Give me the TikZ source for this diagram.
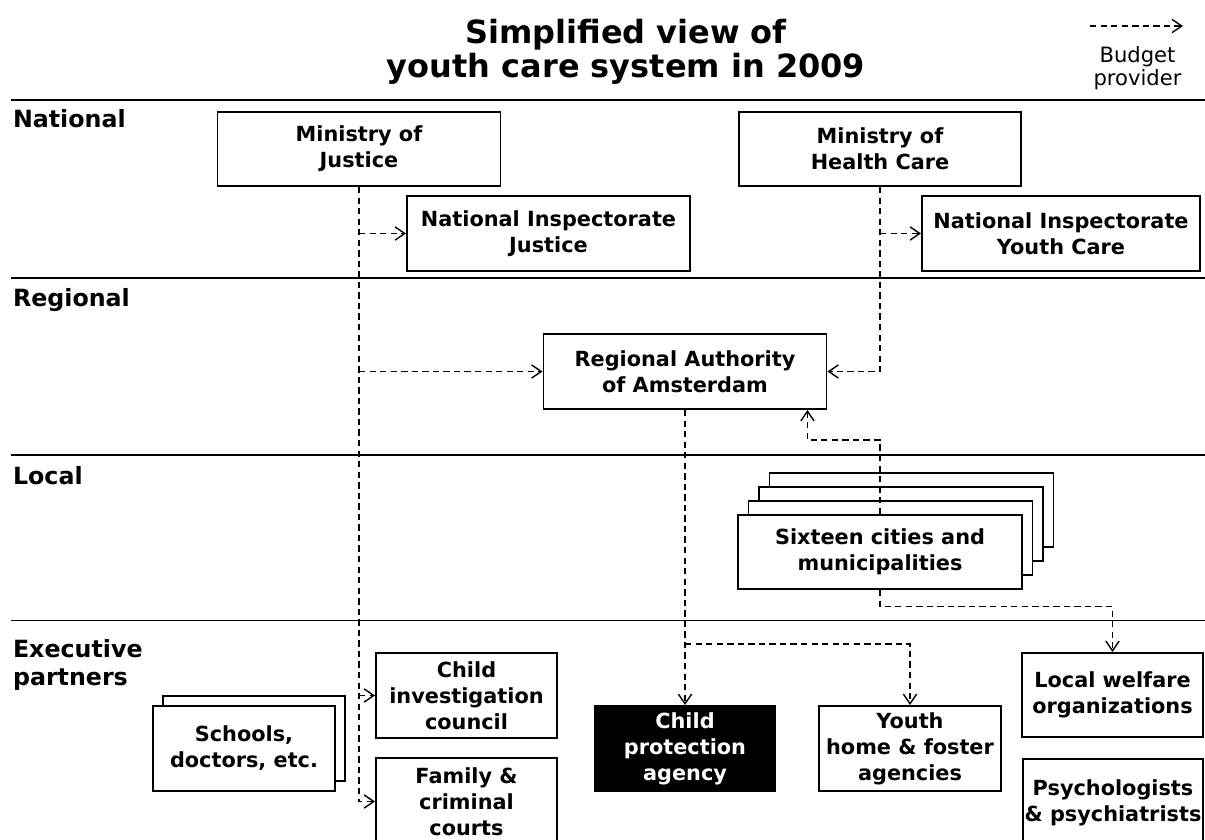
\documentclass[tikz,border=0pt]{standalone}
\usepackage{fontspec}
\setmainfont{DejaVu Sans}
\usetikzlibrary{arrows.meta}

\begin{document}
\begin{tikzpicture}[>={Straight Barb[length=5.5pt,width=7.5pt]}, line width=0.6pt,
  box/.style={draw, line width=1.1pt, fill=white, align=center, inner sep=0pt,
    font=\bfseries\fontsize{11.85}{14.8}\selectfont},
  nbox/.style={box, minimum width=5.66cm, minimum height=1.48cm},
  ebox/.style={box, minimum width=3.62cm, minimum height=1.7cm},
  budget/.style={->, dash pattern=on 3.6pt off 2.4pt, line width=0.8pt},
  level/.style={anchor=base west, inner sep=0pt, font=\bfseries\fontsize{13.5}{15.9}\selectfont},
  rule/.style={line width=1.1pt}]
\useasboundingbox (0,0) rectangle (24.1,-16.8);

% title and legend
\node[align=center, inner sep=0pt, font=\bfseries\fontsize{18.2}{19.3}\selectfont] (title) at (12.52,-1.04) {Simplified view of\\youth care system in 2009};
\coordinate (lgs) at (21.8,-0.52);
\coordinate (lge) at (23.66,-0.52);
\draw[budget] (lgs) -- (lge);
\node[align=center, inner sep=0pt, font=\fontsize{12}{13}\selectfont] (legend) at (22.75,-1.36) {Budget\\provider};

% levels
\draw[rule] (0.22,-2.0) -- (24.1,-2.0);
\draw[rule] (0.22,-5.56) -- (24.1,-5.56);
\draw[rule] (0.22,-9.1) -- (24.1,-9.1);
\draw[rule] (0.22,-12.41) -- (24.1,-12.41);
\node[level] (natl) at (0.25,-2.54) {National};
\node[level] (regl) at (0.25,-6.12) {Regional};
\node[level] (locl) at (0.25,-9.68) {Local};
\node[level, anchor=north west, align=left] (exec) at (0.25,-12.78) {Executive\\partners};

% national
\node[nbox] (mj) at (7.18,-2.98) {Ministry of\\Justice};
\node[nbox, minimum height=1.5cm] (nij) at (10.97,-4.67) {National Inspectorate\\Justice};
\node[nbox, minimum width=5.64cm] (mh) at (17.6,-2.98) {Ministry of\\Health Care};
\node[nbox, minimum width=5.56cm, minimum height=1.5cm] (niyc) at (21.22,-4.67) {National Inspectorate\\Youth Care};

% regional and local
\node[nbox, minimum height=1.5cm] (reg) at (13.7,-7.43) {Regional Authority\\of Amsterdam};
\foreach \k in {3,2,1}
  \node[nbox, minimum width=5.68cm] (sc\k) at ({17.6+0.21*\k},{-11.04+0.28*\k}) {};
\node[nbox, minimum width=5.68cm] (sc) at (17.6,-11.04) {Sixteen cities and\\municipalities};

% executive partners
\node[ebox, minimum width=3.64cm] (sch1) at (5.08,-14.77) {};
\node[ebox, minimum width=3.64cm] (sch) at (4.88,-14.97) {Schools,\\doctors, etc.};
\node[ebox] (ci) at (9.33,-13.91) {Child\\investigation\\council};
\node[ebox, minimum height=1.74cm] (fam) at (9.33,-16.03) {Family \&\\criminal\\courts};
\node[ebox, fill=black, text=white] (cpa) at (13.7,-14.97) {Child\\protection\\agency};
\node[ebox, minimum width=3.64cm] (yh) at (18.2,-14.97) {Youth\\home \& foster\\agencies};
\node[ebox, minimum height=1.68cm] (lw) at (22.25,-13.9) {Local welfare\\organizations};
\node[ebox, minimum width=3.6cm, minimum height=1.76cm] (psy) at (22.26,-16.06) {Psychologists\\\& psychiatrists};

% budget flows
\draw[budget] (mj.south) |- (fam.west);
\draw[budget] (mj.south |- nij.west) -- (nij.west);
\draw[budget] (mj.south |- reg.west) -- (reg.west);
\draw[budget] (mj.south |- ci.west) -- (ci.west);
\draw[budget] (mh.south) |- (reg.east);
\draw[budget] (mh.south |- niyc.west) -- (niyc.west);
\draw[budget] (sc.north) -- ++(0,1.48) -| ([xshift=-0.4cm]reg.south east);
\draw[budget] (sc.south) -- ++(0,-0.33) -| (lw.north);
\draw[budget] (reg.south) -- (cpa.north);
\coordinate (split) at ([yshift=-4.68cm]reg.south);
\draw[budget] (split) -| (yh.north);
\end{tikzpicture}
\end{document}
